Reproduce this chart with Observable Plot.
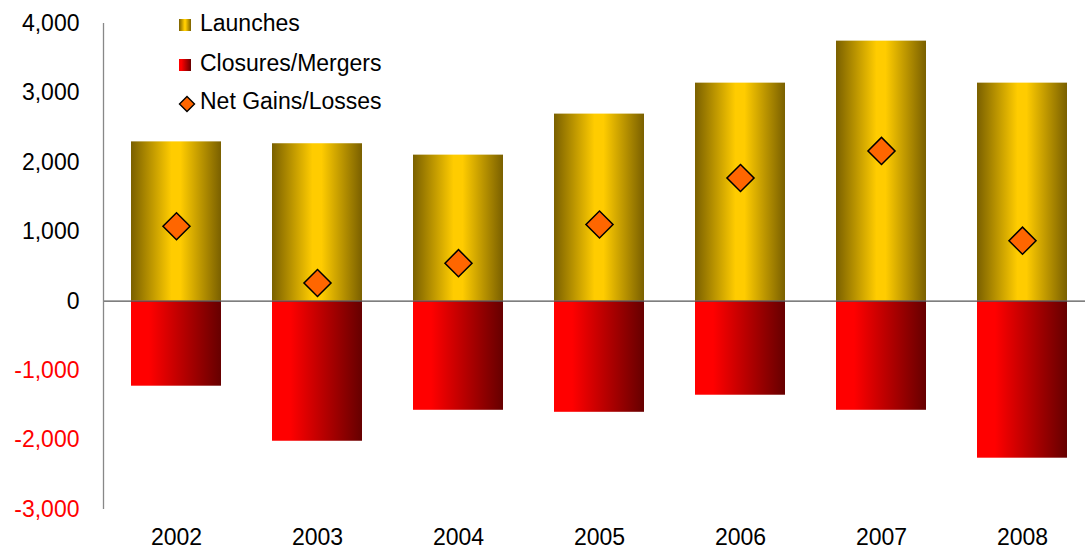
<!DOCTYPE html>
<html><head><meta charset="utf-8">
<script src="https://cdn.jsdelivr.net/npm/d3@7"></script>
<script src="https://cdn.jsdelivr.net/npm/@observablehq/plot@0.6"></script>
<style>
body{margin:0;background:#fff;font-family:"Liberation Sans",Arial,sans-serif;}
#wrap{position:relative;width:1085px;height:551px;overflow:hidden;}
#wrap svg{position:absolute;left:0;top:0;}
.lg{position:absolute;font-size:23px;line-height:23px;color:#000;white-space:nowrap;}
.sw{position:absolute;width:12px;height:12px;}
</style></head><body><div id="wrap"></div>
<script>
const years = ["2002","2003","2004","2005","2006","2007","2008"];
const launches = [2295, 2268, 2104, 2695, 3141, 3746, 3141];
const closures = [-1224, -2017, -1571, -1600, -1354, -1571, -2261];
const net = [1080, 262, 548, 1105, 1775, 2165, 872];
const yTicksPos = [0, 1000, 2000, 3000, 4000];
const yTicksNeg = [-3000, -2000, -1000];
const seriesNames = ["Launches", "Closures/Mergers", "Net Gains/Losses"];

const rows = years.map((y, i) => ({year: y, launches: launches[i], closures: closures[i], net: net[i]}));
const fmt = d => d.toLocaleString("en-US");

const defsMark = () => {
  const ns = "http://www.w3.org/2000/svg";
  const defs = document.createElementNS(ns, "defs");
  const mk = (id, stops) => {
    const g = document.createElementNS(ns, "linearGradient");
    g.setAttribute("id", id);
    g.setAttribute("x1", "0"); g.setAttribute("x2", "1"); g.setAttribute("y1", "0"); g.setAttribute("y2", "0");
    for (const [o, c] of stops) {
      const s = document.createElementNS(ns, "stop");
      s.setAttribute("offset", o); s.setAttribute("stop-color", c);
      g.appendChild(s);
    }
    defs.appendChild(g);
  };
  mk("gGold", [[0, "#7a6000"], [0.45, "#ffcc00"], [0.55, "#ffcc00"], [1, "#7a6000"]]);
  mk("gRed", [[0, "#ff0000"], [0.2, "#ff0000"], [1, "#660000"]]);
  return defs;
};

const axisLine = (index, scales, values, dims) => {
  const ns = "http://www.w3.org/2000/svg";
  const l = document.createElementNS(ns, "line");
  const x = dims.marginLeft - 0.5;
  l.setAttribute("x1", x); l.setAttribute("x2", x);
  l.setAttribute("y1", dims.marginTop); l.setAttribute("y2", dims.height - dims.marginBottom);
  l.setAttribute("stroke", "#888"); l.setAttribute("stroke-width", "1.3");
  return l;
};

const chart = Plot.plot({
  width: 1085,
  height: 551,
  marginLeft: 104,
  marginRight: -8,
  marginTop: 23,
  marginBottom: 42,
  style: {fontFamily: "'Liberation Sans', Arial, sans-serif", fontSize: "23px", color: "#000", background: "#fff"},
  x: {type: "band", domain: years, paddingInner: 0.365, paddingOuter: 0.17},
  y: {domain: [-3000, 4000]},
  marks: [
    defsMark,
    Plot.barY(rows, {x: "year", y: "launches", fill: "url(#gGold)"}),
    Plot.barY(rows, {x: "year", y: "closures", fill: "url(#gRed)"}),
    Plot.ruleY([0], {stroke: "#555", strokeWidth: 1.2}),
    axisLine,
    Plot.dot(rows, {x: "year", y: "net", symbol: "square", rotate: 45, r: 10.8, fill: "#ff6600", stroke: "#000", strokeWidth: 1.5}),
    Plot.axisY({ticks: yTicksPos, tickSize: 0, tickPadding: 25, tickFormat: fmt, label: null, fill: "#000"}),
    Plot.axisY({ticks: yTicksNeg, tickSize: 0, tickPadding: 25, tickFormat: fmt, label: null, fill: "#ff0000"}),
    Plot.axisX({tickSize: 0, tickPadding: 19, label: null, fill: "#000"})
  ]
});

const wrap = document.getElementById("wrap");
wrap.appendChild(chart);

// Legend
const legendItems = [
  {name: seriesNames[0], kind: "gold", swTop: 19, textTop: 12},
  {name: seriesNames[1], kind: "red", swTop: 59, textTop: 52},
  {name: seriesNames[2], kind: "diamond", swTop: 96, textTop: 90}
];
for (const it of legendItems) {
  if (it.kind === "diamond") {
    const s = document.createElementNS("http://www.w3.org/2000/svg", "svg");
    s.setAttribute("width", 18); s.setAttribute("height", 18);
    s.style.position = "absolute"; s.style.left = "178px"; s.style.top = "95px";
    s.innerHTML = '<path d="M9,1.5 L16.5,9 L9,16.5 L1.5,9 Z" fill="#ff6600" stroke="#000" stroke-width="1.4"/>';
    wrap.appendChild(s);
  } else {
    const d = document.createElement("div");
    d.className = "sw";
    d.style.left = "179px"; d.style.top = it.swTop + "px";
    d.style.background = it.kind === "gold"
      ? "linear-gradient(to right, #7a6000, #ffcc00 45%, #ffcc00 55%, #7a6000)"
      : "linear-gradient(to right, #ff0000, #ff0000 20%, #660000)";
    wrap.appendChild(d);
  }
  const t = document.createElement("div");
  t.className = "lg";
  t.style.left = "200px"; t.style.top = it.textTop + "px";
  t.textContent = it.name;
  wrap.appendChild(t);
}
</script>
</body></html>
